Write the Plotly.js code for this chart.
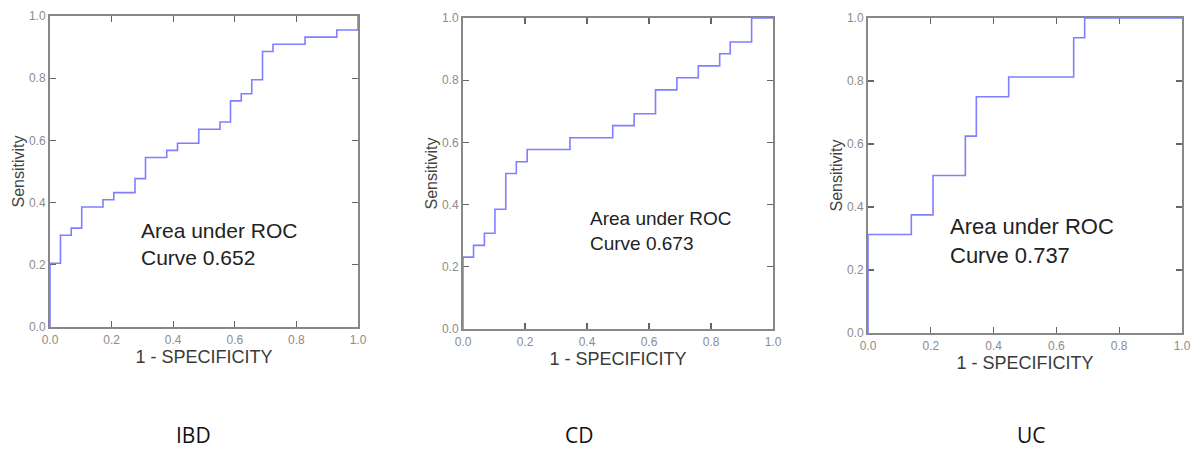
<!DOCTYPE html>
<html>
<head>
<meta charset="utf-8">
<script src="https://cdn.plot.ly/plotly-3.0.1.min.js"></script>
<style>html,body{margin:0;padding:0;background:#fff;}#chart{width:1193px;height:450px;}</style>
</head>
<body>
<div id="chart"></div>
<script>
// ROC step points (1 - specificity, sensitivity)
const ibdFpr  = [0, 0, 0.034, 0.069, 0.103, 0.172, 0.207, 0.276, 0.310, 0.379, 0.414, 0.483, 0.552, 0.586, 0.621, 0.655, 0.690, 0.724, 0.828, 0.931, 1.0];
const ibdSens = [0, 0.205, 0.295, 0.318, 0.386, 0.409, 0.432, 0.477, 0.545, 0.568, 0.591, 0.636, 0.659, 0.727, 0.750, 0.795, 0.886, 0.909, 0.932, 0.955, 1.0];

const cdFpr  = [0, 0, 0.034, 0.069, 0.103, 0.138, 0.172, 0.207, 0.345, 0.483, 0.552, 0.621, 0.690, 0.759, 0.828, 0.862, 0.931, 1.0];
const cdSens = [0, 0.231, 0.269, 0.308, 0.385, 0.500, 0.538, 0.577, 0.615, 0.654, 0.692, 0.769, 0.808, 0.846, 0.885, 0.923, 1.0, 1.0];

const ucFpr  = [0, 0, 0.138, 0.207, 0.310, 0.345, 0.448, 0.655, 0.690, 1.0];
const ucSens = [0, 0.3125, 0.375, 0.5, 0.625, 0.75, 0.8125, 0.9375, 1.0, 1.0];

const panelNames = ["IBD", "CD", "UC"];
const aucValues = ["0.652", "0.673", "0.737"];
const tickVals = [0, 0.2, 0.4, 0.6, 0.8, 1.0];
const xTitle = "1 - SPECIFICITY";
const yTitle = "Sensitivity";

const W = 1193, H = 450;
const px = v => v / W;
const py = v => 1 - v / H;

// plot boxes in pixels [left, right, top, bottom]
const boxes = [[50, 358, 16, 327], [463, 773, 18, 329], [868, 1182, 18, 333]];
const series = [[ibdFpr, ibdSens], [cdFpr, cdSens], [ucFpr, ucSens]];

const lineColor = "#7f7fff";
const traces = series.map((s, i) => ({
  type: "scatter", mode: "lines",
  x: s[0], y: s[1],
  xaxis: i === 0 ? "x" : "x" + (i + 1),
  yaxis: i === 0 ? "y" : "y" + (i + 1),
  line: {shape: "hv", color: lineColor, width: 1.6},
  cliponaxis: false,
  hoverinfo: "x+y",
  showlegend: false
}));

function axisCommon() {
  return {
    range: [0, 1], tickvals: tickVals, tickformat: ".1f",
    showgrid: false, zeroline: false,
    showline: true, mirror: "ticks", linecolor: "#888", linewidth: 2,
    ticks: "inside", ticklen: 6, tickwidth: 1.3, tickcolor: "#666",
    tickfont: {family: "Liberation Sans, Arial, sans-serif", size: 12, color: "#8c8c8c"},
    layer: "below traces", fixedrange: true
  };
}

const layout = {
  width: W, height: H,
  margin: {l: 0, r: 0, t: 0, b: 0},
  paper_bgcolor: "#fff", plot_bgcolor: "#fff",
  showlegend: false,
  annotations: []
};

const annotPos = [[139, 244, 21], [588, 230.5, 19], [948, 241.5, 22]];
const namePos = [193, 579, 1031];

boxes.forEach((b, i) => {
  const sx = i === 0 ? "" : String(i + 1);
  const xa = axisCommon();
  xa.domain = [px(b[0]), px(b[1])];
  xa.anchor = "y" + sx;
  xa.ticklabelstandoff = 1;
  xa.title = {text: xTitle, standoff: 2,
    font: {family: "Liberation Sans, Arial, sans-serif", size: 18, color: "#3a3a3a"}};
  const ya = axisCommon();
  ya.domain = [py(b[3]), py(b[2])];
  ya.anchor = "x" + sx;
  ya.title = {text: yTitle, standoff: 0,
    font: {family: "Liberation Sans, Arial, sans-serif", size: 16, color: "#444"}};
  layout["xaxis" + sx] = xa;
  layout["yaxis" + sx] = ya;

  layout.annotations.push({
    xref: "paper", yref: "paper",
    x: px(annotPos[i][0]), y: py(annotPos[i][1]),
    xanchor: "left", yanchor: "middle", align: "left", showarrow: false,
    text: "Area under ROC<br>Curve " + aucValues[i],
    font: {family: "Liberation Sans, Arial, sans-serif", size: annotPos[i][2], color: "#222"}
  });
  layout.annotations.push({
    xref: "paper", yref: "paper",
    x: px(namePos[i]), y: py(434.5),
    xanchor: "center", yanchor: "middle", showarrow: false,
    text: panelNames[i],
    font: {family: "Open Sans, sans-serif", size: 21, color: "#111"}
  });
});

Plotly.newPlot("chart", traces, layout, {staticPlot: true, displayModeBar: false});
</script>
</body>
</html>
